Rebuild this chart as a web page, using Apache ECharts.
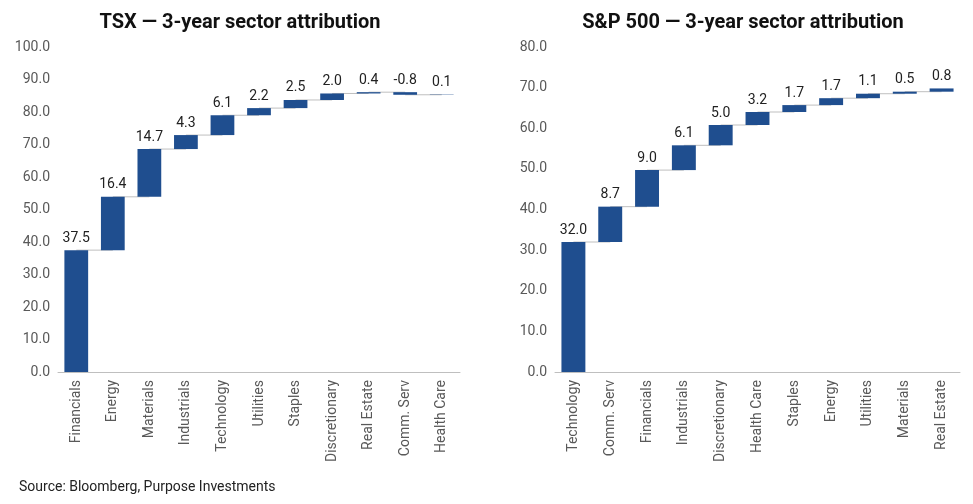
<!DOCTYPE html>
<html><head><meta charset="utf-8">
<script src="https://cdn.jsdelivr.net/npm/echarts@6/dist/echarts.min.js"></script>
<style>body{margin:0;background:#fff}#c{width:973px;height:504px}</style>
</head><body><div id="c"></div>
<script>
var tsxCats = ['Financials','Energy','Materials','Industrials','Technology','Utilities','Staples','Discretionary','Real Estate','Comm. Serv','Health Care'];
var tsxVals = [37.5,16.4,14.7,4.3,6.1,2.2,2.5,2.0,0.4,-0.8,0.1];
var spCats = ['Technology','Comm. Serv','Financials','Industrials','Discretionary','Health Care','Staples','Energy','Utilities','Materials','Real Estate'];
var spVals = [32.0,8.7,9.0,6.1,5.0,3.2,1.7,1.7,1.1,0.5,0.8];
var barColor = '#1f4e8f';

function build(vals) { // 누적값, 투명 base, 막대 높이 계산
	var cum = [], base = [], h = [], s = 0;
	vals.forEach(function(v) {
		var prev = s; s = +(s + v).toFixed(2);
		cum.push(s);
		base.push(Math.min(prev, s));
		h.push({value: Math.abs(v), raw: v});
	});
	return {cum: cum, base: base, h: h};
}

function seriesFor(vals, idx) {
	var d = build(vals);
	return [
		{type:'bar', stack:'s'+idx, xAxisIndex:idx, yAxisIndex:idx, data:d.base, itemStyle:{color:'transparent'}, barWidth:'65%', silent:true},
		{type:'bar', stack:'s'+idx, xAxisIndex:idx, yAxisIndex:idx, barWidth:'65%', itemStyle:{color:barColor},
			data:d.h.map(function(o){return {value:o.value, raw:o.raw};}),
			label:{show:true, position:'top', color:'#222', fontSize:14, fontFamily:'Roboto',
				formatter:function(p){return p.data.raw.toFixed(1);}}},
		{type:'custom', xAxisIndex:idx, yAxisIndex:idx, z:1, silent:true,
			data:d.cum.slice(0,-1).map(function(c,i){return [i,c];}),
			renderItem:function(params, api){
				var a = api.coord([api.value(0), api.value(1)]);
				var b = api.coord([api.value(0)+1, api.value(1)]);
				return {type:'line', shape:{x1:a[0], y1:a[1], x2:b[0], y2:b[1]}, style:{stroke:'#bfbfbf', lineWidth:1}};
			}}
	];
}

function xAx(cats, idx) {
	return {type:'category', gridIndex:idx, data:cats,
		axisLine:{lineStyle:{color:'#bfbfbf'}}, axisTick:{show:false},
		axisLabel:{rotate:90, color:'#595959', fontSize:14, fontFamily:'Roboto', interval:0}};
}
function yAx(max, idx) {
	return {type:'value', gridIndex:idx, min:0, max:max, interval:10, splitLine:{show:false},
		axisLabel:{color:'#595959', fontSize:14, fontFamily:'Roboto', formatter:function(v){return v.toFixed(1);}}};
}

var chart = echarts.init(document.getElementById('c'));
chart.setOption({
	animation:false,
	title:[
		{text:'TSX — 3-year sector attribution', left:235, top:8, textAlign:'center', textStyle:{fontSize:20, fontWeight:'bold', color:'#111', fontFamily:'Roboto'}},
		{text:'S&P 500 — 3-year sector attribution', left:738, top:8, textAlign:'center', textStyle:{fontSize:20, fontWeight:'bold', color:'#111', fontFamily:'Roboto'}},
		{text:'Source: Bloomberg, Purpose Investments', left:14, top:475, textStyle:{fontSize:14, fontWeight:'normal', color:'#222', fontFamily:'Roboto'}}
	],
	grid:[
		{left:58, right:513, top:47, bottom:132},
		{left:555, right:13, top:47, bottom:132}
	],
	xAxis:[xAx(tsxCats,0), xAx(spCats,1)],
	yAxis:[yAx(100,0), yAx(80,1)],
	series: seriesFor(tsxVals,0).concat(seriesFor(spVals,1))
});
</script></body></html>
